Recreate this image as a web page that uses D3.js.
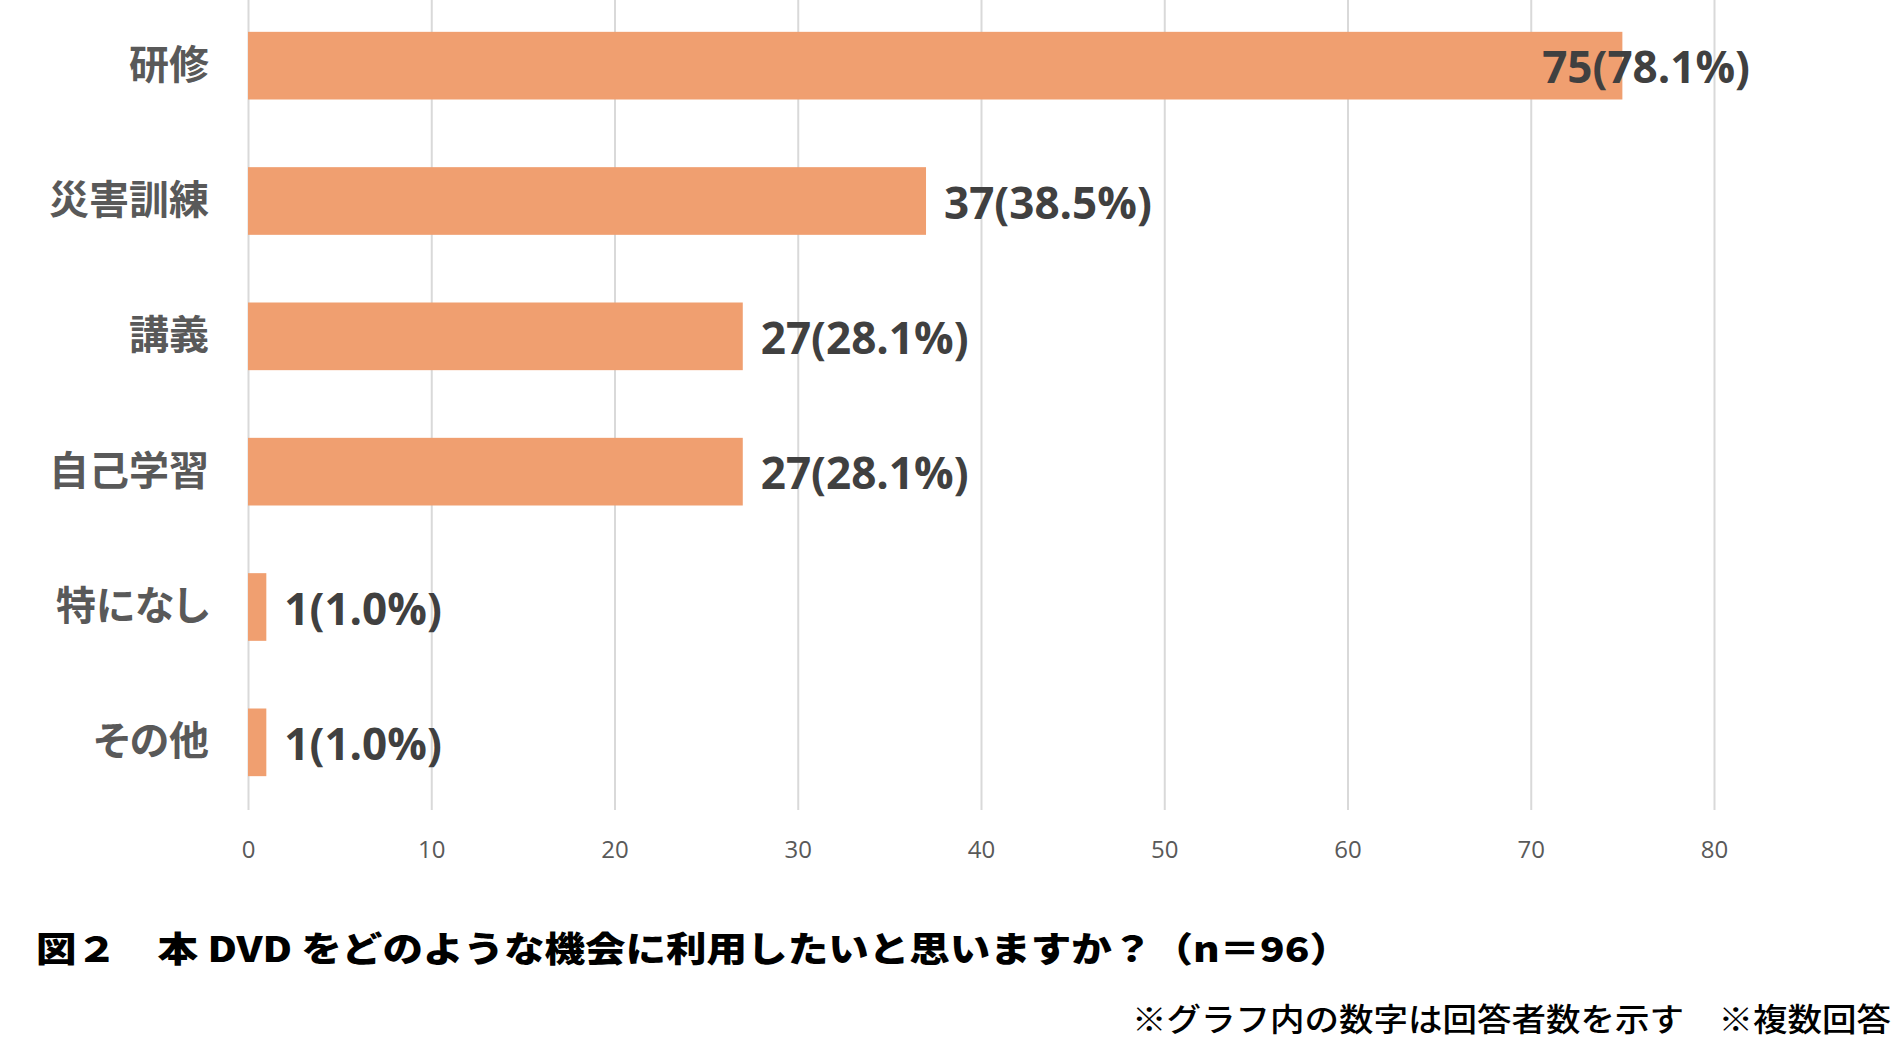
<!DOCTYPE html>
<html>
<head>
<meta charset="utf-8">
<script src="https://cdn.jsdelivr.net/npm/d3@7"></script>
<style>
  html, body { margin: 0; padding: 0; background: #fff; }
  svg { display: block; }
</style>
</head>
<body>
<svg id="chart" width="1898" height="1044"></svg>
<script>
// ---- data ----
const categories = ["研修", "災害訓練", "講義", "自己学習", "特になし", "その他"];
const counts = [75, 37, 27, 27, 1, 1];
const percents = ["78.1%", "38.5%", "28.1%", "28.1%", "1.0%", "1.0%"];
const xTicks = [0, 10, 20, 30, 40, 50, 60, 70, 80];
const titleText = "図２　本 DVD をどのような機会に利用したいと思いますか？（n＝96）";
const noteText = "※グラフ内の数字は回答者数を示す　※複数回答";

(function () {
// ---- layout ----
const svg = d3.select("#chart");
const pLeft = 248, pRight = 1714, pTop = -2, pBottom = 810, labelLimit = 1750;

const x = d3.scaleLinear().domain([0, 80]).range([pLeft, pRight]);
const y = d3.scaleBand().domain(categories).range([pTop, pBottom])
  .paddingInner(0.5).paddingOuter(0.25);

// gridlines
const grid = svg.append("g").attr("transform", `translate(0,${pBottom})`)
  .call(d3.axisBottom(x).tickValues(xTicks).tickSize(-(pBottom - pTop)).tickFormat(""));
grid.select(".domain").remove();
grid.selectAll(".tick line").attr("stroke", "#d9d9d9").attr("stroke-width", 2);

// x tick labels
const xAxis = svg.append("g").attr("transform", `translate(0,${pBottom})`)
  .call(d3.axisBottom(x).tickValues(xTicks).tickSize(0).tickPadding(0));
xAxis.select(".domain").remove();
xAxis.selectAll(".tick text")
  .attr("y", 48)
  .attr("dy", null)
  .attr("font-family", "'Open Sans', sans-serif")
  .attr("font-size", 24)
  .attr("fill", "#595959");

// bars
svg.append("g").selectAll("rect")
  .data(categories)
  .join("rect")
  .attr("x", x(0))
  .attr("y", d => y(d))
  .attr("width", (d, i) => x(counts[i]) - x(0))
  .attr("height", y.bandwidth())
  .attr("fill", "#F09F70");

// category labels
const yAxis = svg.append("g").attr("transform", `translate(${pLeft},0)`)
  .call(d3.axisLeft(y).tickSize(0).tickPadding(39));
yAxis.select(".domain").remove();
yAxis.selectAll(".tick text")
  .attr("font-family", "'Noto Sans CJK JP', sans-serif")
  .attr("font-weight", 700)
  .attr("font-size", 40)
  .attr("fill", "#595959")
  .style("font-feature-settings", "'palt'")
  .attr("dy", null)
  .attr("dominant-baseline", "central")
  .attr("y", -4);

// value labels
const fs = 44, sx = 1.0;
const labels = svg.append("g").selectAll("text")
  .data(categories)
  .join("text")
  .attr("font-family", "'Open Sans', sans-serif")
  .attr("font-weight", 700)
  .attr("font-size", fs)
  .attr("fill", "#404040")
  .text((d, i) => `${counts[i]}(${percents[i]})`);
labels.each(function (d, i) {
  const w = this.getComputedTextLength() * sx;
  let tx = x(counts[i]) + 18;
  if (tx + w > labelLimit) tx = labelLimit - w;
  const ty = y(d) + y.bandwidth() / 2 + 0.357 * fs + 2;
  d3.select(this).attr("transform", `translate(${tx},${ty}) scale(${sx},1)`);
});

// title
svg.append("text")
  .attr("x", 36).attr("y", 946)
  .attr("dominant-baseline", "central")
  .attr("font-family", "'Noto Sans CJK JP', sans-serif")
  .attr("font-weight", 900)
  .attr("font-size", 35)
  .attr("fill", "#000")
  .attr("textLength", 1314)
  .attr("lengthAdjust", "spacingAndGlyphs")
  .text(titleText);

// note
svg.append("text")
  .attr("x", 1132).attr("y", 1017)
  .attr("dominant-baseline", "central")
  .attr("font-family", "'Noto Sans CJK JP', sans-serif")
  .attr("font-weight", 500)
  .attr("font-size", 32)
  .attr("fill", "#000")
  .attr("textLength", 759)
  .attr("lengthAdjust", "spacingAndGlyphs")
  .text(noteText);
})();
</script>
</body>
</html>
